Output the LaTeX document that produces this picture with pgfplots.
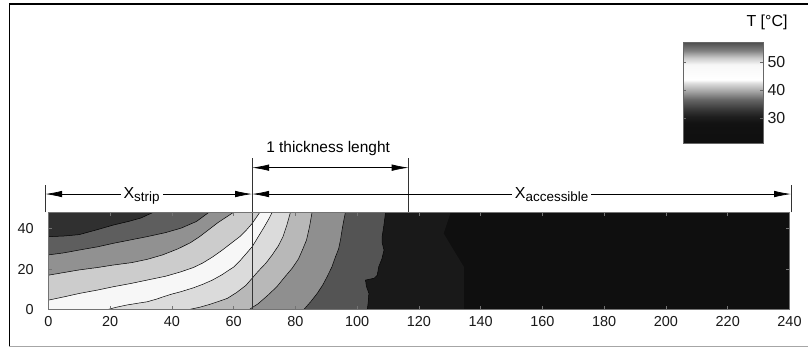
\documentclass[border=0pt]{standalone}
\usepackage{pgfplots}
\pgfplotsset{compat=1.18}
\usepackage{fontspec}
\setmainfont{Liberation Sans}
\usetikzlibrary{arrows.meta}

% grey map of the temperature scale (position = T - 21, doubled)
\pgfplotsset{
  colormap={tcmap}{gray(0cm)=(0.06); gray(14cm)=(0.07); gray(19cm)=(0.12);
    gray(24cm)=(0.22); gray(31cm)=(0.4); gray(37cm)=(0.65); gray(43cm)=(0.88);
    gray(45cm)=(1); gray(56cm)=(0.97); gray(61cm)=(0.78); gray(66cm)=(0.5);
    gray(72cm)=(0.3)}
}

% band fills, from the hottest corner outwards
\definecolor{b0}{gray}{0.19}
\definecolor{b1}{gray}{0.37}
\definecolor{b2}{gray}{0.57}
\definecolor{b3}{gray}{0.80}
\definecolor{b4}{gray}{0.97}
\definecolor{b5}{gray}{0.86}
\definecolor{b6}{gray}{0.72}
\definecolor{b7}{gray}{0.56}
\definecolor{b8}{gray}{0.33}
\definecolor{b9}{gray}{0.10}
\definecolor{b10}{gray}{0.06}

\tikzset{
  dim/.style={black, line width=0.7bp,
    {Latex[length=17bp,width=6.5bp]}-{Latex[length=17bp,width=6.5bp]}},
  guide/.style={black!80, line width=0.7bp},
  iso/.style={black, line width=0.5bp},
}

\begin{document}
\begin{tikzpicture}
\path[use as bounding box] (-48.3bp,-37.3bp) rectangle (759.7bp,309.7bp);
% figure frame
\draw[black, line width=1.2bp] (759.7bp,305.7bp) -- (-39bp,305.7bp) -- (-39bp,-36.3bp);
\draw[black!35, line width=1bp] (-39bp,-36.3bp) -- (759.7bp,-36.3bp);

\begin{axis}[
  scale only axis, width=741.2bp, height=97.4bp,
  xmin=0, xmax=240, ymin=0, ymax=48,
  xtick={0,20,...,240}, ytick={0,20,40},
  tick align=inside, tick pos=both, major tick length=4bp,
  axis line style={black!55, line width=0.8bp},
  tick style={black!55, line width=0.6bp},
  clip=false, axis on top,
  /pgf/number format/assume math mode=true,
  ticklabel style={font=\fontsize{14.5}{16}\selectfont, text=black!90},
  xticklabel style={yshift=-3bp},
  yticklabel style={xshift=-11bp},
  colorbar, colormap name=tcmap, point meta min=21, point meta max=57,
  colorbar/width=80bp,
  colorbar shift/.style={xshift=634.7bp, yshift=166.7bp},
  colorbar style={
    at={(parent axis.south west)}, anchor=south west,
    scale only axis, width=80bp, height=101bp,
    ytick={30,40,50}, yticklabel pos=right,
    tick align=inside, major tick length=3bp,
    axis line style={black!60, line width=0.6bp},
    tick style={black!60},
    /pgf/number format/assume math mode=true,
    yticklabel style={font=\fontsize{16}{18}\selectfont, xshift=1bp},
    title={T [°C]},
    title style={at={(1.05,1)}, anchor=south, yshift=3bp,
      font=\fontsize{16}{18}\selectfont},
  },
]

% filled temperature bands, painted from the coolest side
\addplot[fill=b10, draw=none] coordinates {(0,0) (240,0) (240,48) (0,48)} -- cycle;
\addplot[fill=b9, draw=none] coordinates {(134.6,0) (134.6,21) (131,30) (128,37.6) (130.3,48) (0,48) (0,0)} -- cycle;
\addplot[fill=b8, draw=none] coordinates {(103.3,0) (103.6,4) (103.8,8.1) (103,11.5) (102.7,14.6) (105.5,15.5) (106.5,17) (107,21.2) (108,25) (108.7,29.4) (108.1,33) (108.1,36) (108.7,42) (109.2,48) (0,48) (0,0)} -- cycle;
\addplot[fill=b7, draw=none] coordinates {(82.7,0) (85,4) (87.1,8.1) (88.8,12) (90.3,16.3) (91.8,21) (93,26.1) (94,30) (94.6,34.3) (95.3,41) (96.2,48) (0,48) (0,0)} -- cycle;
\addplot[fill=b6, draw=none] coordinates {(65,0) (68,3) (71,7) (74,11.3) (76.5,16) (79,20.5) (81,25) (82.3,29.5) (83.6,34.3) (84.6,41) (85.4,48) (0,48) (0,0)} -- cycle;
\addplot[fill=b5, draw=none] coordinates {(45.3,0) (49,1.2) (52,2.5) (55,4) (58,5.6) (61,8.5) (64,12) (66,15.5) (68,19) (70.5,23) (72.5,27) (74.5,31.5) (76,36) (77.3,42) (78.4,48) (0,48) (0,0)} -- cycle;
\addplot[fill=b4, draw=none] coordinates {(19,0) (22,1.2) (25.4,2.3) (29,3.2) (32,3.9) (35,5.2) (37.3,6.4) (40,7.7) (43,8.9) (47,10.8) (50,12.5) (53,14.5) (56,17) (58,19) (60,21) (62,24) (64,27.5) (66,31) (68,36) (70,41) (71.5,45) (72.5,48) (0,48) (0,0)} -- cycle;
\addplot[fill=b3, draw=none] coordinates {(0,4.7) (5,6.3) (10,8) (16,9.7) (21,11.3) (27,13) (32,14.6) (38,16.5) (43,18.7) (47,20.8) (50,23) (53,25.8) (56,29) (59,32.5) (62,36) (64,39) (66,42.5) (68.5,48) (0,48)} -- cycle;
\addplot[fill=b2, draw=none] coordinates {(0,17) (5,18.3) (10,19.6) (16,20.8) (21,22) (27,23.2) (32,24.8) (37,27) (42,30) (46,33) (49,36) (52,39.5) (55,43) (58,46) (60,48) (0,48)} -- cycle;
\addplot[fill=b1, draw=none] coordinates {(0,27) (5,28) (10,29.4) (16,31) (21,32.7) (27,34.5) (32,36) (38,38) (43,40.2) (48,43.5) (52,48) (0,48)} -- cycle;
\addplot[fill=b0, draw=none] coordinates {(0,36) (5,36.3) (10,37) (16,39.5) (21,41.7) (26,43.5) (30,45.2) (34,48) (0,48)} -- cycle;

% isotherms
\addplot[iso] coordinates {(0,36) (5,36.3) (10,37) (16,39.5) (21,41.7) (26,43.5) (30,45.2) (34,48)};
\addplot[iso] coordinates {(0,27) (5,28) (10,29.4) (16,31) (21,32.7) (27,34.5) (32,36) (38,38) (43,40.2) (48,43.5) (52,48)};
\addplot[iso] coordinates {(0,17) (5,18.3) (10,19.6) (16,20.8) (21,22) (27,23.2) (32,24.8) (37,27) (42,30) (46,33) (49,36) (52,39.5) (55,43) (58,46) (60,48)};
\addplot[iso] coordinates {(0,4.7) (5,6.3) (10,8) (16,9.7) (21,11.3) (27,13) (32,14.6) (38,16.5) (43,18.7) (47,20.8) (50,23) (53,25.8) (56,29) (59,32.5) (62,36) (64,39) (66,42.5) (68.5,48)};
\addplot[iso] coordinates {(19,0) (22,1.2) (25.4,2.3) (29,3.2) (32,3.9) (35,5.2) (37.3,6.4) (40,7.7) (43,8.9) (47,10.8) (50,12.5) (53,14.5) (56,17) (58,19) (60,21) (62,24) (64,27.5) (66,31) (68,36) (70,41) (71.5,45) (72.5,48)};
\addplot[iso] coordinates {(45.3,0) (49,1.2) (52,2.5) (55,4) (58,5.6) (61,8.5) (64,12) (66,15.5) (68,19) (70.5,23) (72.5,27) (74.5,31.5) (76,36) (77.3,42) (78.4,48)};
\addplot[iso] coordinates {(65,0) (68,3) (71,7) (74,11.3) (76.5,16) (79,20.5) (81,25) (82.3,29.5) (83.6,34.3) (84.6,41) (85.4,48)};
\addplot[iso] coordinates {(82.7,0) (85,4) (87.1,8.1) (88.8,12) (90.3,16.3) (91.8,21) (93,26.1) (94,30) (94.6,34.3) (95.3,41) (96.2,48)};
\addplot[iso] coordinates {(103.3,0) (103.6,4) (103.8,8.1) (103,11.5) (102.7,14.6) (105.5,15.5) (106.5,17) (107,21.2) (108,25) (108.7,29.4) (108.1,33) (108.1,36) (108.7,42) (109.2,48)};

% dimension lines
\draw[guide] (axis cs:66,0) -- (axis cs:66,74.6);
\draw[guide] (axis cs:116.7,48) -- (axis cs:116.7,74.6);
\draw[guide] (axis cs:-1,48) -- (axis cs:-1,61.5);
\draw[guide] (axis cs:240.5,48) -- (axis cs:240.5,61.5);
\draw[dim] (axis cs:-1,57) -- (axis cs:66,57);
\draw[dim] (axis cs:66,57) -- (axis cs:240.5,57);
\draw[dim] (axis cs:66,70) -- (axis cs:116.7,70);
\node[fill=white, inner xsep=3bp, inner ysep=1bp, anchor=base, yshift=-4bp,
  font=\fontsize{16}{18}\selectfont] at (axis cs:30.2,57)
  {X\raisebox{-3bp}{\fontsize{13.5}{14}\selectfont strip}};
\node[fill=white, inner xsep=3bp, inner ysep=1bp, anchor=base, yshift=-4bp,
  font=\fontsize{16}{18}\selectfont] at (axis cs:163,57)
  {X\raisebox{-3bp}{\fontsize{13.5}{14}\selectfont accessible}};
\node[anchor=base, inner sep=0pt, font=\fontsize{15.5}{17}\selectfont]
  at (axis cs:90.6,77.7) {1 thickness lenght};
\end{axis}
\end{tikzpicture}
\end{document}
